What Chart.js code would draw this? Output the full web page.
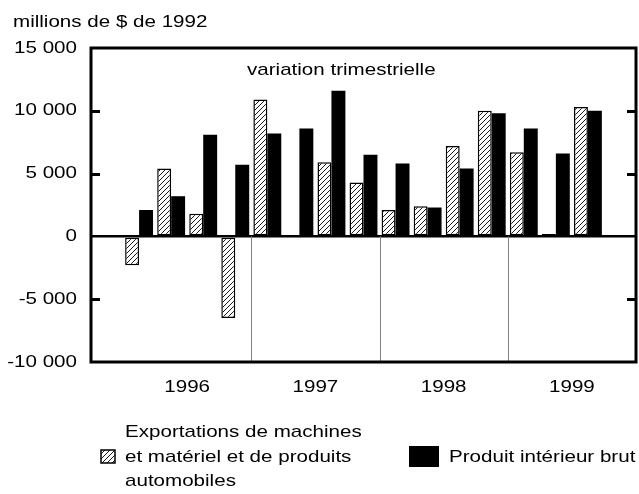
<!DOCTYPE html>
<html>
<head>
<meta charset="utf-8">
<script src="https://cdn.jsdelivr.net/npm/chart.js@4.4.1/dist/chart.umd.min.js"></script>
<style>
  html, body { margin: 0; background: #fff; }
</style>
</head>
<body>
<canvas id="chart" width="639" height="494"></canvas>
<script>
// données (millions de $ de 1992, variation trimestrielle)
const quarters = [
    "T4 1995",
    "T1 1996", "T2 1996", "T3 1996", "T4 1996",
    "T1 1997", "T2 1997", "T3 1997", "T4 1997",
    "T1 1998", "T2 1998", "T3 1998", "T4 1998",
    "T1 1999", "T2 1999", "T3 1999", "T4 1999"
];
const years = ["1996", "1997", "1998", "1999"];

const exportsVals = [50, -2300, 5400, 1800, -6500, 10900, 100, 5900, 4300, 2100, 2400, 7200, 10000, 6700, 200, 10300, 50];
const gdpVals = [null, 2100, 3200, 8100, 5700, 8200, 8600, 11600, 6500, 5800, 2300, 5400, 9800, 8600, 6600, 10000, null];

const yMin = -10000;
const yMax = 15000;
const yStep = 5000;

const unitLabel = "millions de $ de 1992";
const subTitle = "variation trimestrielle";
const exportsLabel = ["Exportations de machines", "et matériel et de produits", "automobiles"];
const gdpLabel = ["Produit intérieur brut"];

const FONT = '"Liberation Sans", Arial, sans-serif';
const SX = 1.21; // texte un peu étiré en largeur comme l'original

const fmt = (v) => {
    const s = String(Math.abs(v)).replace(/\B(?=(\d{3})+(?!\d))/g, " ");
    return v < 0 ? "-" + s : s;
};

// motif hachuré "/"
const hatch = (() => {
    const c = document.createElement("canvas");
    c.width = 5; c.height = 5;
    const g = c.getContext("2d");
    g.fillStyle = "#fff";
    g.fillRect(0, 0, 5, 5);
    g.strokeStyle = "#000";
    g.lineWidth = 0.9;
    g.beginPath(); g.moveTo(-1, 6); g.lineTo(6, -1); g.stroke();
    g.beginPath(); g.moveTo(-1, 1); g.lineTo(1, -1); g.stroke();
    g.beginPath(); g.moveTo(4, 6); g.lineTo(6, 4); g.stroke();
    return g.createPattern(c, "repeat");
})();

const text = (ctx, t, x, y, align) => {
    ctx.save();
    ctx.translate(x, y);
    ctx.scale(SX, 1);
    ctx.textAlign = align || "left";
    ctx.fillText(t, 0, 0);
    ctx.restore();
};

const decor = {
    id: "decor",
    afterDraw(chart) {
        const { ctx, chartArea: a, scales: { x, y } } = chart;
        ctx.save();

        // séparateurs d'années (sous zéro)
        ctx.strokeStyle = "#808080";
        ctx.lineWidth = 1;
        years.forEach((yr, k) => {
            if (k === 0) return;
            const i = quarters.findIndex(q => q.endsWith(yr));
            const px = Math.round((x.getPixelForValue(i - 1) + x.getPixelForValue(i)) / 2) + 0.5;
            ctx.beginPath();
            ctx.moveTo(px, y.getPixelForValue(0));
            ctx.lineTo(px, a.bottom);
            ctx.stroke();
        });

        // cadre
        ctx.strokeStyle = "#000";
        ctx.lineWidth = 3;
        ctx.strokeRect(a.left, a.top, a.right - a.left, a.bottom - a.top);

        // graduations intérieures
        y.ticks.forEach(t => {
            if (t.value === yMin || t.value === yMax || t.value === 0) return;
            const py = Math.round(y.getPixelForValue(t.value)) + 0.5;
            ctx.beginPath();
            ctx.moveTo(a.left, py); ctx.lineTo(a.left + 9, py);
            ctx.moveTo(a.right, py); ctx.lineTo(a.right - 9, py);
            ctx.stroke();
        });

        ctx.fillStyle = "#000";
        ctx.font = "17px " + FONT;
        ctx.textBaseline = "middle";

        // étiquettes de l'axe y
        y.ticks.forEach(t => {
            text(ctx, fmt(t.value), a.left - 14, y.getPixelForValue(t.value), "right");
        });

        // années
        years.forEach(yr => {
            const idx = quarters.map((q, i) => q.endsWith(yr) ? i : -1).filter(i => i >= 0);
            const cx = idx.reduce((s, i) => s + x.getPixelForValue(i), 0) / idx.length;
            text(ctx, yr, cx, a.bottom + 25, "center");
        });

        // unité et sous-titre
        text(ctx, unitLabel, 13, 22);
        text(ctx, subTitle, a.left + 156, a.top + 22);

        // légende
        const lh = 24.5;
        const ly = a.bottom + 95;
        ctx.fillStyle = hatch;
        ctx.fillRect(101, ly - 7, 14, 13);
        ctx.lineWidth = 1.5;
        ctx.strokeRect(101, ly - 7, 14, 13);
        ctx.fillStyle = "#000";
        exportsLabel.forEach((t, i) => text(ctx, t, 125, ly + (i - 1) * lh));

        ctx.fillRect(409, ly - 11, 30, 21);
        gdpLabel.forEach(t => text(ctx, t, 449, ly));

        ctx.restore();
    }
};

new Chart(document.getElementById("chart"), {
    type: "bar",
    data: {
        labels: quarters,
        datasets: [
            {
                label: exportsLabel.join(" "),
                data: exportsVals,
                backgroundColor: hatch,
                borderColor: "#000",
                borderWidth: 1.5,
                borderSkipped: false,
                categoryPercentage: 0.87,
                barPercentage: 1.0
            },
            {
                label: gdpLabel.join(" "),
                data: gdpVals,
                backgroundColor: "#000",
                borderColor: "#000",
                borderWidth: 0,
                categoryPercentage: 0.87,
                barPercentage: 1.0
            }
        ]
    },
    options: {
        responsive: false,
        animation: false,
        layout: { padding: { top: 48, right: 3, left: 0, bottom: 0 } },
        plugins: {
            legend: { display: false },
            tooltip: { enabled: false }
        },
        scales: {
            x: {
                grid: { display: false },
                border: { display: false },
                ticks: { display: false },
                afterFit: (s) => { s.height = 132; }
            },
            y: {
                min: yMin,
                max: yMax,
                border: { display: false },
                grid: {
                    drawTicks: false,
                    color: (c) => c.tick && c.tick.value === 0 ? "#000" : "rgba(0,0,0,0)",
                    lineWidth: (c) => c.tick && c.tick.value === 0 ? 2.5 : 0
                },
                ticks: {
                    stepSize: yStep,
                    display: false
                },
                afterFit: (s) => { s.width = 91; }
            }
        }
    },
    plugins: [decor]
});
</script>
</body>
</html>
